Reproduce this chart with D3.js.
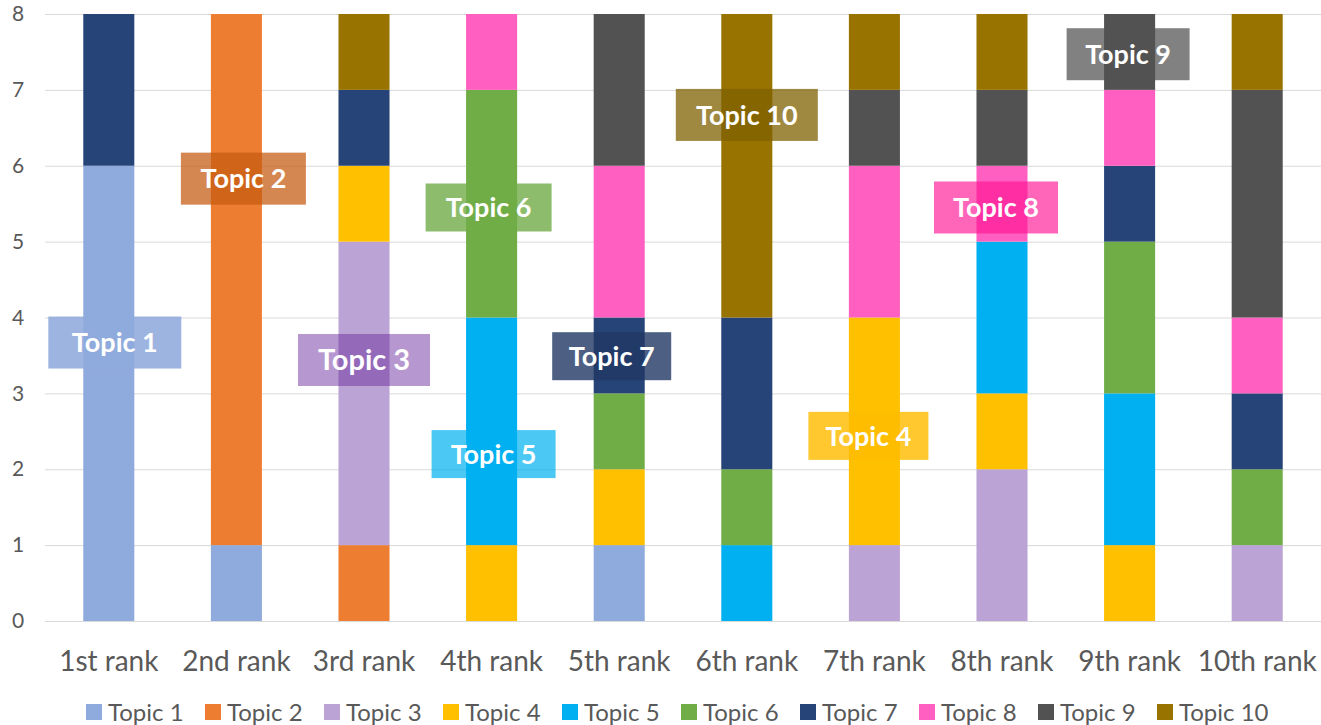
<!DOCTYPE html>
<html><head><meta charset="utf-8">
<script src="https://cdn.jsdelivr.net/npm/d3@7"></script>
<style>
html,body{margin:0;padding:0;background:#fff;}
svg{display:block;}
svg text{font-family:Lato,"Open Sans",sans-serif;}
</style></head>
<body>
<svg id="c" width="1321" height="725"></svg>
<script>
const categories = ["1st rank","2nd rank","3rd rank","4th rank","5th rank","6th rank","7th rank","8th rank","9th rank","10th rank"];
const topics = ["Topic 1","Topic 2","Topic 3","Topic 4","Topic 5","Topic 6","Topic 7","Topic 8","Topic 9","Topic 10"];
const topic1  = [6,1,0,0,1,0,0,0,0,0];
const topic2  = [0,7,1,0,0,0,0,0,0,0];
const topic3  = [0,0,4,0,0,0,1,2,0,1];
const topic4  = [0,0,1,1,1,0,3,1,1,0];
const topic5  = [0,0,0,3,0,1,0,2,2,0];
const topic6  = [0,0,0,3,1,1,0,0,2,1];
const topic7  = [2,0,1,0,1,2,0,0,1,1];
const topic8  = [0,0,0,1,2,0,2,1,1,1];
const topic9  = [0,0,0,0,2,0,1,1,1,3];
const topic10 = [0,0,1,0,0,4,1,1,0,1];
const yTicks = [0,1,2,3,4,5,6,7,8];
// annotation labels: topic, category it sits on, value it sits at
const labelTopic = ["Topic 1","Topic 2","Topic 3","Topic 4","Topic 5","Topic 6","Topic 7","Topic 8","Topic 9","Topic 10"];
const labelCat   = ["1st rank","2nd rank","3rd rank","7th rank","4th rank","4th rank","5th rank","8th rank","9th rank","6th rank"];
const labelValue = [3.67,5.83,3.44,2.44,2.20,5.45,3.49,5.45,7.47,6.67];

const colors = ["#8FAADC","#ED7D31","#BBA3D5","#FFC000","#00B0F0","#70AD47","#264478","#FF5FC0","#525252","#997300"];
const boxColors = ["#8FAADC","#C55A11","#7030A0","#FFBC00","#00B0F0","#70AD47","#203864","#FF1493","#525252","#7F6000"];
const boxAlpha  = [0.88,0.73,0.5,0.82,0.7,0.8,0.8,0.65,0.73,0.75];
const labelOffsetX = [6,7,0,-6,2,-3,-7.5,-6,-1.5,0];
const labelFont = [27,27,29,27,27,27,27,27,27,27];
const labelW = [133,125,132,120,124,126,119,124,123,142];
const labelH = [52,52,52,48,48,48,48,52,52,52];

const series = [topic1,topic2,topic3,topic4,topic5,topic6,topic7,topic8,topic9,topic10];
const rows = categories.map((c,i)=>{const r={cat:c}; topics.forEach((t,j)=>r[t]=series[j][i]); return r;});
const stacked = d3.stack().keys(topics)(rows);

const svg = d3.select("#c");
const m = {left:45,right:1321,top:14,bottom:621};
const x = d3.scaleBand().domain(categories).range([m.left,m.right]).paddingInner(0.6).paddingOuter(0.3);
const y = d3.scaleLinear().domain([0,8]).range([m.bottom,m.top]);
const color = d3.scaleOrdinal().domain(topics).range(colors);
const FF = 'Lato, "Open Sans", sans-serif';

// gridlines
const yAxis = svg.append("g").attr("transform",`translate(${m.left},0)`)
  .call(d3.axisLeft(y).tickValues(yTicks).tickSize(-(m.right-m.left)).tickFormat(d3.format("d")))
  .attr("font-family",FF);
yAxis.select(".domain").remove();
yAxis.selectAll(".tick line").attr("stroke","#D9D9D9").attr("stroke-width",1);
yAxis.selectAll(".tick text").attr("x",-27).attr("fill","#595959").style("font-size","21px").style("text-anchor","middle");

// bars
svg.append("g").selectAll("g").data(stacked).join("g").attr("fill",d=>color(d.key))
  .selectAll("rect").data(d=>d).join("rect")
  .attr("x",d=>x(d.data.cat)).attr("width",x.bandwidth())
  .attr("y",d=>y(d[1])).attr("height",d=>y(d[0])-y(d[1]));

// x axis labels
const xAxis = svg.append("g").attr("transform",`translate(0,${m.bottom})`)
  .call(d3.axisBottom(x).tickSize(0)).attr("font-family",FF);
xAxis.select(".domain").remove();
xAxis.selectAll(".tick text").attr("y",40).attr("dy","0.34em").attr("fill","#595959").style("font-size","28px");

// annotation labels
const lg = svg.append("g");
labelTopic.forEach((t,i)=>{
  const ti = topics.indexOf(t);
  const cx = x(labelCat[i]) + x.bandwidth()/2 + labelOffsetX[i];
  const cy = y(labelValue[i]);
  const g = lg.append("g");
  g.append("rect").attr("x",cx-labelW[i]/2).attr("y",cy-labelH[i]/2).attr("width",labelW[i]).attr("height",labelH[i])
    .attr("fill",boxColors[ti]).attr("fill-opacity",boxAlpha[ti]);
  g.append("text").attr("x",cx).attr("y",cy).attr("text-anchor","middle").attr("dy","0.36em")
    .attr("fill","#fff").style("font-weight","bold").style("font-size",labelFont[i]+"px").text(t);
});

// legend
const leg = svg.append("g").attr("transform","translate(86,704)");
topics.forEach((t,i)=>{
  const g = leg.append("g").attr("transform",`translate(${i*119},0)`);
  g.append("rect").attr("width",16).attr("height",16).attr("fill",colors[i]);
  g.append("text").attr("x",22).attr("y",8).attr("dy","0.36em").attr("fill","#595959").style("font-size","24px").text(t);
});
</script>
</body></html>
